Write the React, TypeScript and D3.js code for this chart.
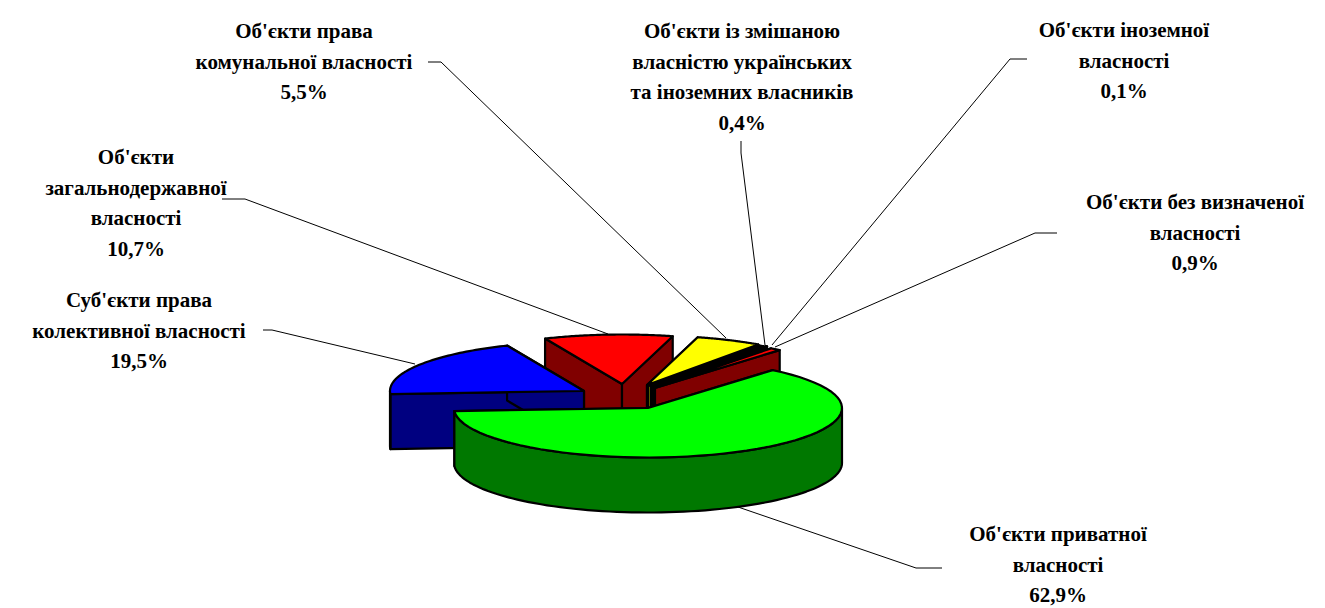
import React from "react";
import * as d3 from "d3";

const names = [
  ["Об'єкти приватної", "власності"],
  ["Суб'єкти права", "колективної власності"],
  ["Об'єкти", "загальнодержавної", "власності"],
  ["Об'єкти права", "комунальної власності"],
  ["Об'єкти із змішаною", "власністю українських", "та іноземних власників"],
  ["Об'єкти іноземної", "власності"],
  ["Об'єкти без визначеної", "власності"],
];
const values = [62.9, 19.5, 10.7, 5.5, 0.4, 0.1, 0.9];
const percentLabels = ["62,9%", "19,5%", "10,7%", "5,5%", "0,4%", "0,1%", "0,9%"];
const topColors = ["#00ff00", "#0000ff", "#ff0000", "#ffff00", "#808000", "#000000", "#ff0000"];
const wallColors = ["#007800", "#000080", "#800000", "#808000", "#808000", "#000000", "#800000"];

// layout, separate from data
const RX = 194, RY = 49.5, DEPTH = 55;
const startDeg = 40;
const centers: [number, number][] = [[648, 408], [584, 391], [622, 384], [647, 385], [648, 386], [651, 386], [655, 388]];
const paintOrder = [2, 3, 4, 5, 6, 1, 0];
const labelPos: [number, number][] = [[1058, 541], [139, 307], [136, 164], [304, 38], [742, 38], [1124, 37], [1195, 209]];
const leaders: [number, number][][] = [
  [[942, 568], [916, 568], [738, 507]],
  [[263, 330], [272, 330], [415, 364]],
  [[222, 199], [245, 199], [608, 334]],
  [[428, 62], [441, 62], [726, 338]],
  [[741, 141], [741, 153], [765, 345]],
  [[1027, 59], [1010, 59], [772, 345]],
  [[1057, 233], [1035, 233], [775, 347]],
];
const LINE_H = 30.7;

const rad = (deg: number) => (deg * Math.PI) / 180;

export default function App() {
  const arcs = d3
    .pie<number>()
    .sort(null)
    .startAngle(rad(startDeg))
    .endAngle(rad(startDeg + 360))(values);

  const pt = (i: number, a: number, dz = 0): [number, number] => [
    centers[i][0] + RX * Math.sin(a),
    centers[i][1] - RY * Math.cos(a) + dz,
  ];
  const line = d3.line();

  const slices = paintOrder.map((i) => {
    const { startAngle: a0, endAngle: a1 } = arcs[i];
    const c = centers[i];
    const sweep = d3.range(0, 61).map((k) => a0 + ((a1 - a0) * k) / 60);
    const top = line([c, ...sweep.map((a) => pt(i, a))])! + "Z";
    const wallA = line([c, pt(i, a0), pt(i, a0, DEPTH), [c[0], c[1] + DEPTH]])! + "Z";
    const wallB = line([c, pt(i, a1), pt(i, a1, DEPTH), [c[0], c[1] + DEPTH]])! + "Z";
    // outer rim is visible only on the front half of the ellipse
    const lo = Math.max(a0, Math.PI / 2);
    const hi = Math.min(a1, (3 * Math.PI) / 2);
    let rim: string | null = null;
    if (hi > lo) {
      const r = d3.range(0, 81).map((k) => lo + ((hi - lo) * k) / 80);
      rim = line([...r.map((a) => pt(i, a)), ...r.slice().reverse().map((a) => pt(i, a, DEPTH))])! + "Z";
    }
    return { i, top, wallA, wallB, rim };
  });

  const stroke = { stroke: "#000", strokeWidth: 2.2, strokeLinejoin: "round" as const };

  return (
    <svg
      width={1325}
      height={608}
      style={{ position: "absolute", left: 0, top: 0, background: "#fff" }}
      fontFamily="'Liberation Serif', serif"
    >
      {leaders.map((l, i) => (
        <path key={i} d={line(l)!} fill="none" stroke="#000" strokeWidth={1} />
      ))}
      {slices.map((s) => (
        <g key={s.i} {...stroke}>
          <path d={s.wallA} fill={wallColors[s.i]} />
          <path d={s.wallB} fill={wallColors[s.i]} />
          {s.rim && <path d={s.rim} fill={wallColors[s.i]} />}
          <path d={s.top} fill={topColors[s.i]} />
        </g>
      ))}
      {names.map((lines, i) => (
        <text key={i} fontWeight="bold" fontSize={21} textAnchor="middle" fill="#000">
          {[...lines, percentLabels[i]].map((t, k) => (
            <tspan key={k} x={labelPos[i][0]} y={labelPos[i][1] + k * LINE_H}>
              {t}
            </tspan>
          ))}
        </text>
      ))}
    </svg>
  );
}
